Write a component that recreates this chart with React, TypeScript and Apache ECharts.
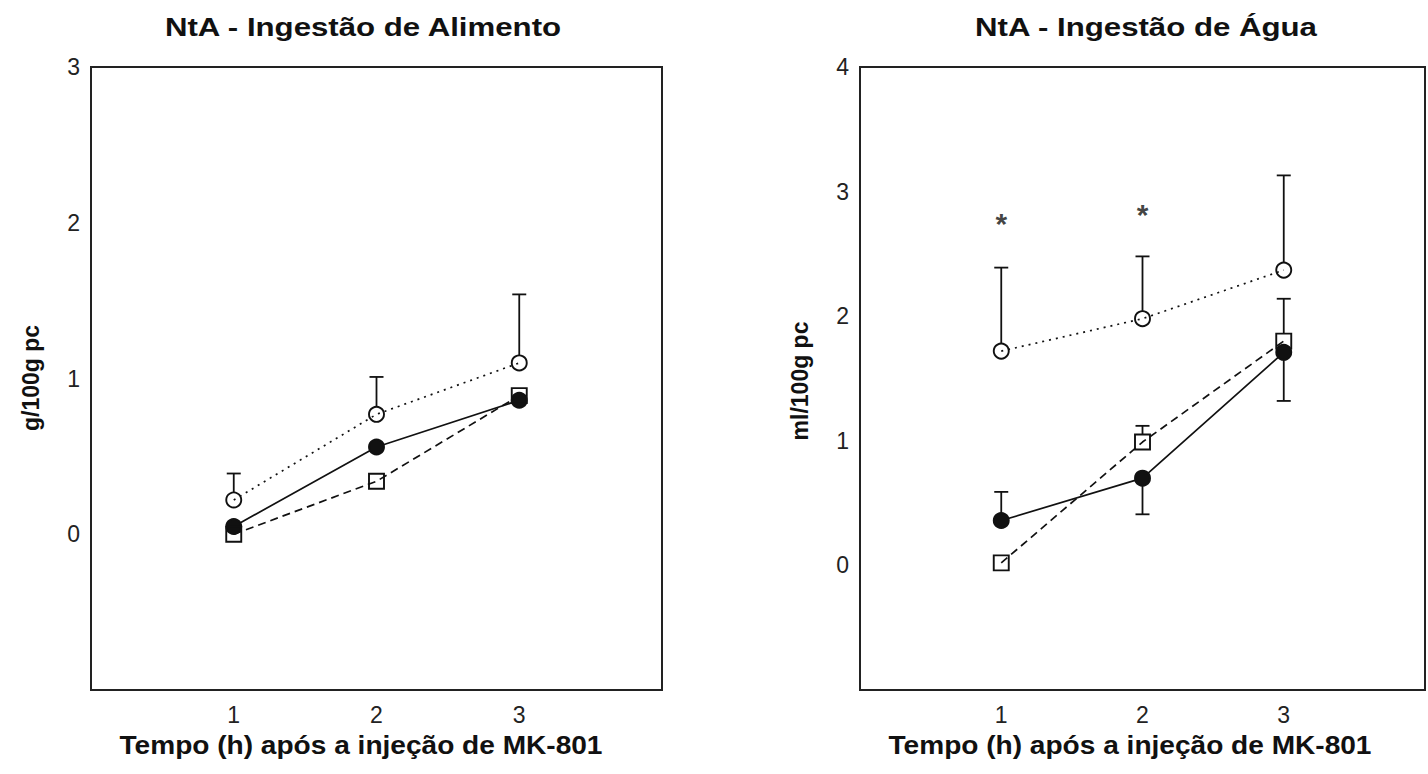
import React, { useEffect, useRef } from "react";
import * as echarts from "echarts";

// Hours after the MK-801 injection
const hours = [1, 2, 3];

// Food intake (g/100g pc)
const foodOpen = [0.22, 0.77, 1.1];
const foodOpenUpper = [0.39, 1.01, 1.54];
const foodFilled = [0.05, 0.56, 0.86];
const foodSquare = [0.0, 0.34, 0.89];

// Water intake (ml/100g pc)
const waterOpen = [1.72, 1.98, 2.37];
const waterOpenUpper = [2.39, 2.48, 3.13];
const waterFilled = [0.36, 0.7, 1.71];
const waterFilledErrEnd = [0.59, 0.41, 1.32];
const waterSquare = [0.02, 0.99, 1.8];
const waterSquareErrEnd = [null, 1.12, 2.14];

// Significance marks (hour, position)
const waterStars = [
  [1, 2.74],
  [2, 2.82],
];

const foodTicks = [0, 1, 2, 3];
const waterTicks = [0, 1, 2, 3, 4];
const hourTicks = [1, 2, 3];

const FONT = "'Liberation Sans', Arial, sans-serif";
const INK = "#111";

const pairs = (ys: number[]) => hours.map((h, i) => [h, ys[i]]);

const errRows = (from: number[], to: (number | null)[]) =>
  hours
    .map((h, i) => (to[i] == null ? null : [h, from[i], to[i] as number]))
    .filter((r) => r !== null) as number[][];

const MARK_R = 7.5;

const errorBars = (gridIndex: number, rows: number[][]) => ({
  type: "custom",
  xAxisIndex: gridIndex,
  yAxisIndex: gridIndex,
  z: 3,
  data: rows,
  renderItem: (_params: any, api: any) => {
    const x = api.value(0);
    const p0 = api.coord([x, api.value(1)]);
    const p1 = api.coord([x, api.value(2)]);
    const dir = p1[1] < p0[1] ? -1 : 1;
    const style = { stroke: INK, lineWidth: 1.8 };
    return {
      type: "group",
      children: [
        {
          type: "line",
          shape: { x1: p0[0], y1: p0[1] + dir * MARK_R, x2: p1[0], y2: p1[1] },
          style,
        },
        {
          type: "line",
          shape: { x1: p1[0] - 7, y1: p1[1], x2: p1[0] + 7, y2: p1[1] },
          style,
        },
      ],
    };
  },
});

const lineSeries = (
  gridIndex: number,
  ys: number[],
  kind: "open" | "filled" | "square"
) => {
  const lineType =
    kind === "open" ? [2, 5] : kind === "square" ? [8, 5] : "solid";
  return {
    type: "line",
    xAxisIndex: gridIndex,
    yAxisIndex: gridIndex,
    data: pairs(ys),
    z: kind === "square" ? 5 : 4,
    symbol: kind === "square" ? "rect" : "circle",
    symbolSize: 15,
    showSymbol: true,
    lineStyle: { color: INK, width: 1.7, type: lineType },
    itemStyle: {
      color: kind === "filled" ? INK : "rgba(0,0,0,0)",
      borderColor: INK,
      borderWidth: 1.9,
    },
  };
};

const valueAxisX = (gridIndex: number) => ({
  type: "value",
  gridIndex,
  min: 0,
  max: 4,
  interval: 1,
  axisLine: { show: false },
  axisTick: { show: false },
  splitLine: { show: false },
  axisLabel: {
    margin: 13,
    fontSize: 23,
    fontFamily: FONT,
    color: "#222",
    formatter: (v: number) => (hourTicks.includes(v) ? String(v) : ""),
  },
});

const valueAxisY = (gridIndex: number, max: number, ticks: number[]) => ({
  type: "value",
  gridIndex,
  min: -1,
  max,
  interval: 1,
  axisLine: { show: false },
  axisTick: { show: false },
  splitLine: { show: false },
  axisLabel: {
    margin: 11,
    fontSize: 23,
    fontFamily: FONT,
    color: "#222",
    formatter: (v: number) => (ticks.includes(v) ? String(v) : ""),
  },
});

const label = (
  text: string,
  x: number,
  y: number,
  fontSize: number,
  scaleX = 1,
  rotation = 0
) => ({
  type: "text",
  x,
  y,
  rotation,
  scaleX,
  style: {
    text,
    fontSize,
    fontWeight: "bold",
    fontFamily: FONT,
    fill: INK,
    align: "center",
    verticalAlign: "middle",
  },
});

export default function App() {
  const ref = useRef<HTMLDivElement>(null);

  useEffect(() => {
    document.body.style.margin = "0";
    if (!ref.current) return;
    const chart = echarts.init(ref.current, undefined, { renderer: "svg" });

    const gridStyle = {
      show: true,
      borderColor: "#222",
      borderWidth: 2,
      backgroundColor: "#fff",
    };

    chart.setOption({
      animation: false,
      backgroundColor: "#fff",
      grid: [
        { ...gridStyle, left: 91, top: 67, width: 571, height: 623 },
        { ...gridStyle, left: 860, top: 67, width: 571, height: 623 },
      ],
      xAxis: [valueAxisX(0), valueAxisX(1)],
      yAxis: [valueAxisY(0, 3, foodTicks), valueAxisY(1, 4, waterTicks)],
      graphic: [
        label("NtA - Ingestão de Alimento", 363, 27, 26, 1.2),
        label("NtA - Ingestão de Água", 1146, 27, 26, 1.2),
        label("Tempo (h) após a injeção de MK-801", 361, 745, 26, 1.08),
        label("Tempo (h) após a injeção de MK-801", 1130, 745, 26, 1.08),
        label("g/100g pc", 31, 378, 23, 1, Math.PI / 2),
        label("ml/100g pc", 800, 381, 23, 1, Math.PI / 2),
      ],
      series: [
        errorBars(0, errRows(foodOpen, foodOpenUpper)),
        lineSeries(0, foodOpen, "open"),
        lineSeries(0, foodFilled, "filled"),
        lineSeries(0, foodSquare, "square"),

        errorBars(1, errRows(waterOpen, waterOpenUpper)),
        errorBars(1, errRows(waterFilled, waterFilledErrEnd)),
        errorBars(1, errRows(waterSquare, waterSquareErrEnd)),
        lineSeries(1, waterOpen, "open"),
        lineSeries(1, waterFilled, "filled"),
        lineSeries(1, waterSquare, "square"),
        {
          type: "scatter",
          xAxisIndex: 1,
          yAxisIndex: 1,
          data: waterStars,
          symbolSize: 1,
          itemStyle: { color: "rgba(0,0,0,0)" },
          label: {
            show: true,
            position: "inside",
            formatter: "*",
            fontSize: 30,
            fontWeight: "bold",
            fontFamily: FONT,
            color: INK,
          },
        },
      ],
    });

    return () => chart.dispose();
  }, []);

  return <div ref={ref} style={{ width: 1428, height: 774 }} />;
}
